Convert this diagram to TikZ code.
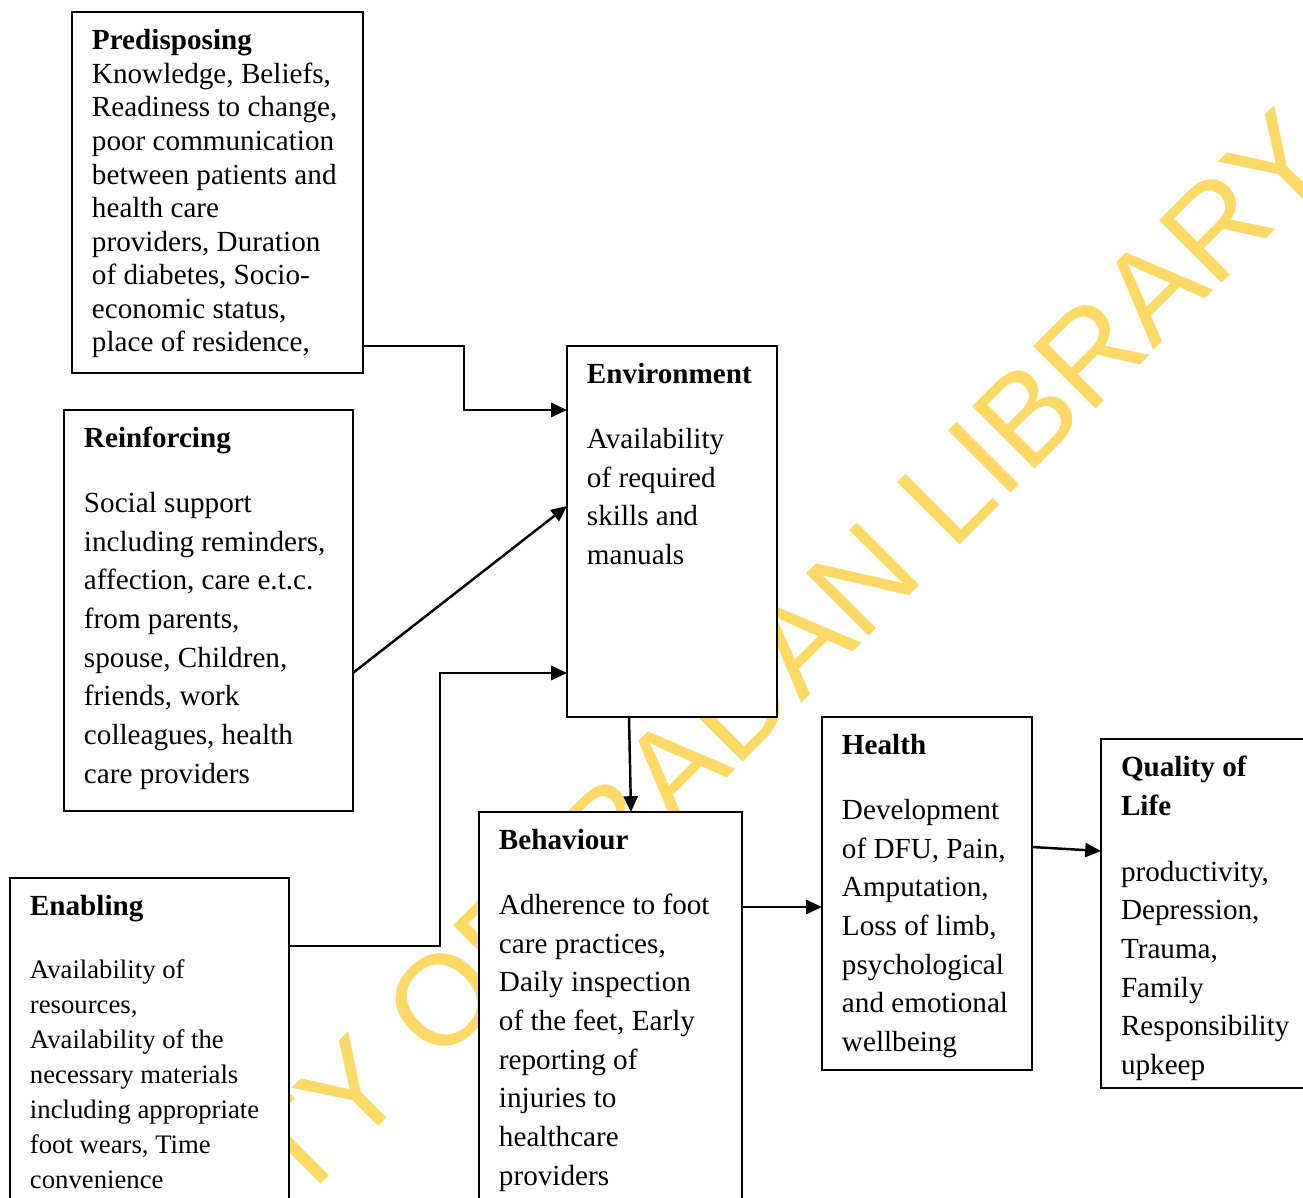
\documentclass[tikz,border=0pt]{standalone}
\usepackage{fontspec}
\setmainfont{Liberation Serif}
\newfontfamily\wmfamily{Liberation Sans}
\usetikzlibrary{arrows.meta}
\definecolor{wmyellow}{RGB}{255,217,102}
\newcommand{\bodyfont}{\fontsize{16.6pt}{22pt}\selectfont}
\newcommand{\boxtext}[3]{\parbox[t][#2][t]{#1}{\raggedright\leftskip=0.4cm\rule{0pt}{21.5pt}#3}}
\tikzset{
  factor/.style={draw, line width=1.1pt, fill=white, anchor=north west, inner sep=0pt, outer sep=0pt, font=\bodyfont},
  link/.style={line width=1.4pt, -{Triangle[length=9pt, width=8pt]}},
  wmark/.style={rotate=45, anchor=base west, inner sep=0pt, text=wmyellow, font=\wmfamily\fontsize{73pt}{73pt}\selectfont}
}

\begin{document}
\begin{tikzpicture}[x=0.02cm, y=-0.02cm]
    \useasboundingbox (0,0) rectangle (1303,1198);
    \clip (0,0) rectangle (1303,1198);
    \node[wmark] (wm) at (-131.4,1636) {UNIVERSITY OF IBADAN LIBRARY};

    \node[factor] (pred) at (72,12) {\boxtext{5.82cm}{7.22cm}{\fontsize{16.6pt}{19.1pt}\selectfont
        \textbf{Predisposing}\\ Knowledge, Beliefs,\\ Readiness to change,\\ poor communication\\
        between patients and\\ health care\\ providers, Duration\\ of diabetes, Socio-\\
        economic status,\\ place of residence,}};
    \node[factor] (reinf) at (64,410) {\boxtext{5.78cm}{8.02cm}{\textbf{Reinforcing}\\[14.8pt]
        Social support\\ including reminders,\\ affection, care e.t.c.\\ from parents,\\
        spouse, Children,\\ friends, work\\ colleagues, health\\ care providers}};
    \node[factor] (env) at (567,346) {\boxtext{4.2cm}{7.42cm}{\textbf{Environment}\\[14.8pt]
        Availability\\ of required\\ skills and\\ manuals}};
    \node[factor] (enab) at (10,878) {\boxtext{5.58cm}{6.8cm}{\textbf{Enabling}\\[15.8pt]
        \fontsize{15.2pt}{19.95pt}\selectfont Availability of\\ resources,\\ Availability of the\\
        necessary materials\\ including appropriate\\ foot wears, Time\\ convenience}};
    \node[factor] (behav) at (479,812) {\boxtext{5.26cm}{8.12cm}{\textbf{Behaviour}\\[14.8pt]
        Adherence to foot\\ care practices,\\ Daily inspection\\ of the feet, Early\\
        reporting of\\ injuries to\\ healthcare\\ providers}};
    \node[factor] (health) at (822,717) {\boxtext{4.2cm}{7.06cm}{\textbf{Health}\\[14.8pt]
        Development\\ of DFU, Pain,\\ Amputation,\\ Loss of limb,\\ psychological\\
        and emotional\\ wellbeing}};
    \node[factor] (qol) at (1101,739) {\boxtext{4.4cm}{6.98cm}{\textbf{Quality of}\\ \textbf{Life}\\[15.4pt]
        productivity,\\ Depression,\\ Trauma,\\ Family\\ Responsibility\\ upkeep}};

    \draw[link] ([shift={(0,-27)}]pred.south east) -- ++(101,0) |- ([shift={(0,64)}]env.north west);
    \draw[link] ([shift={(0,-138)}]reinf.south east) -- ([shift={(0,160)}]env.north west);
    \draw[link] ([shift={(0,68)}]enab.north east) -- ++(151,0) |- ([shift={(0,327)}]env.north west);
    \draw[link] ([shift={(62,0)}]env.south west) -- ([shift={(152,0)}]behav.north west);
    \draw[link] ([shift={(0,95)}]behav.north east) -- ([shift={(0,190)}]health.north west);
    \draw[link] ([shift={(0,130)}]health.north east) -- ([shift={(0,112)}]qol.north west);
\end{tikzpicture}
\end{document}
